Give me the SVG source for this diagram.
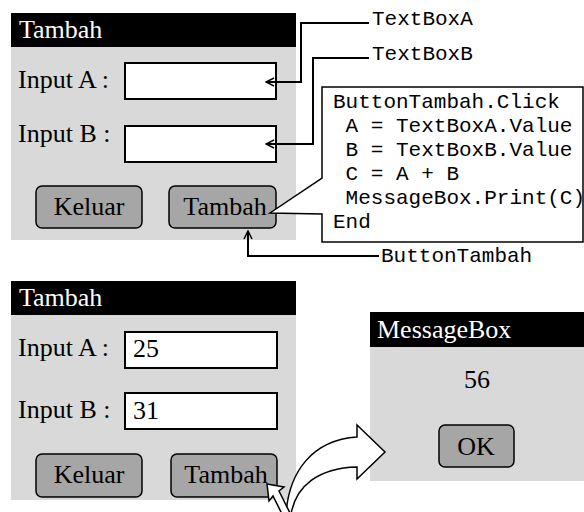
<svg xmlns="http://www.w3.org/2000/svg" width="584" height="512" viewBox="0 0 584 512">
  <defs>
    <style>
      .title { fill: #000; }
      .body { fill: #d9d9d9; }
      .ttl { font-family: "Liberation Serif", "Times New Roman", serif; font-size: 26px; fill: #fff; }
      .lbl { font-family: "Liberation Serif", "Times New Roman", serif; font-size: 26px; fill: #000; }
      .box { fill: #fff; stroke: #000; stroke-width: 2; }
      .btn { fill: #a6a6a6; stroke: #000; stroke-width: 1.5; }
      .code { font-family: "Liberation Mono", "Courier New", monospace; font-size: 21px; fill: #000; white-space: pre; }
      .wire { fill: none; stroke: #000; stroke-width: 2; }
      .outline { fill: #fff; stroke: #000; stroke-width: 1.5; stroke-linejoin: miter; }
    </style>
    <!-- open chevron head; tip sits on the end of the line -->
    <marker id="open" viewBox="0 0 10 10" refX="9" refY="5" markerWidth="10" markerHeight="10" markerUnits="userSpaceOnUse" orient="auto">
      <path d="M1,1 L9,5 L1,9" fill="none" stroke="#000" stroke-width="1.5"/>
    </marker>
  </defs>

  <!-- Form "Tambah" (design view) -->
  <g id="form-design">
    <rect class="title" x="11" y="13" width="285" height="34"/>
    <rect class="body" x="11" y="47" width="285" height="193"/>
    <text class="ttl" x="19" y="38">Tambah</text>
    <text class="lbl" x="18" y="88">Input A :</text>
    <text class="lbl" x="18" y="142">Input B :</text>
  </g>
  <g id="textbox-a">
    <rect class="box" x="125" y="63" width="151" height="36"/>
  </g>
  <g id="textbox-b">
    <rect class="box" x="125" y="126" width="151" height="36"/>
  </g>
  <g id="button-keluar">
    <rect class="btn" x="36" y="186" width="106" height="42" rx="6"/>
    <text class="lbl" x="89" y="215" text-anchor="middle">Keluar</text>
  </g>
  <g id="button-tambah">
    <rect class="btn" x="169" y="186" width="107" height="42" rx="6"/>
    <text class="lbl" x="225" y="215" text-anchor="middle">Tambah</text>
  </g>

  <!-- Click handler callout -->
  <g id="code-callout">
    <path class="outline" d="M322,87 L583,87 L583,242 L322,242 L322,214 L270,213 L322,178 Z"/>
    <text class="code" x="333" y="108">ButtonTambah.Click</text>
    <text class="code" x="333" y="132"> A = TextBoxA.Value</text>
    <text class="code" x="333" y="156"> B = TextBoxB.Value</text>
    <text class="code" x="333" y="180"> C = A + B</text>
    <text class="code" x="333" y="204"> MessageBox.Print(C)</text>
    <text class="code" x="333" y="228">End</text>
  </g>

  <!-- Name labels -->
  <g id="label-textbox-a">
    <text class="code" x="372" y="25">TextBoxA</text>
  </g>
  <g id="label-textbox-b">
    <text class="code" x="372" y="60">TextBoxB</text>
  </g>
  <g id="label-button-tambah">
    <text class="code" x="381" y="262">ButtonTambah</text>
  </g>

  <g id="connectors">
    <polyline class="wire" points="369,23 301,23 301,82 266,82" marker-end="url(#open)"/>
    <polyline class="wire" points="369,58 313,58 313,144 266,144" marker-end="url(#open)"/>
    <polyline class="wire" points="379,256 248,256 248,231" marker-end="url(#open)"/>
  </g>

  <!-- Form "Tambah" (run view) -->
  <g id="form-run">
    <rect class="title" x="11" y="281" width="285" height="34"/>
    <rect class="body" x="11" y="315" width="285" height="185"/>
    <text class="ttl" x="19" y="306">Tambah</text>
    <text class="lbl" x="18" y="356">Input A :</text>
    <rect class="box" x="125" y="332" width="152" height="36"/>
    <text class="lbl" x="133" y="357">25</text>
    <text class="lbl" x="18" y="418">Input B :</text>
    <rect class="box" x="125" y="393" width="152" height="36"/>
    <text class="lbl" x="133" y="419">31</text>
    <rect class="btn" x="36" y="454" width="106" height="43" rx="6"/>
    <text class="lbl" x="89" y="483" text-anchor="middle">Keluar</text>
    <rect class="btn" x="171" y="454" width="106" height="43" rx="6"/>
    <text class="lbl" x="226" y="483" text-anchor="middle">Tambah</text>
  </g>

  <!-- MessageBox dialog -->
  <g id="messagebox">
    <rect class="title" x="370" y="312" width="214" height="35"/>
    <rect class="body" x="370" y="347" width="214" height="134"/>
    <text class="ttl" x="377" y="338">MessageBox</text>
    <text class="lbl" x="477" y="388" text-anchor="middle">56</text>
    <rect class="btn" x="439" y="425" width="75" height="42" rx="6"/>
    <text class="lbl" x="476" y="455" text-anchor="middle">OK</text>
  </g>

  <!-- Click and result arrows -->
  <g id="result-arrow">
    <path class="outline" d="M286,514 C289,472 312,440 357,437 L357,425 L385,452 L357,479 L357,467 C318,468 296,486 291,514 Z"/>
  </g>
  <g id="click-cursor">
    <path class="outline" d="M267,484 L284,487 L279,491 L291,515 L284,518 L273,496 L269,501 Z"/>
  </g>
</svg>
